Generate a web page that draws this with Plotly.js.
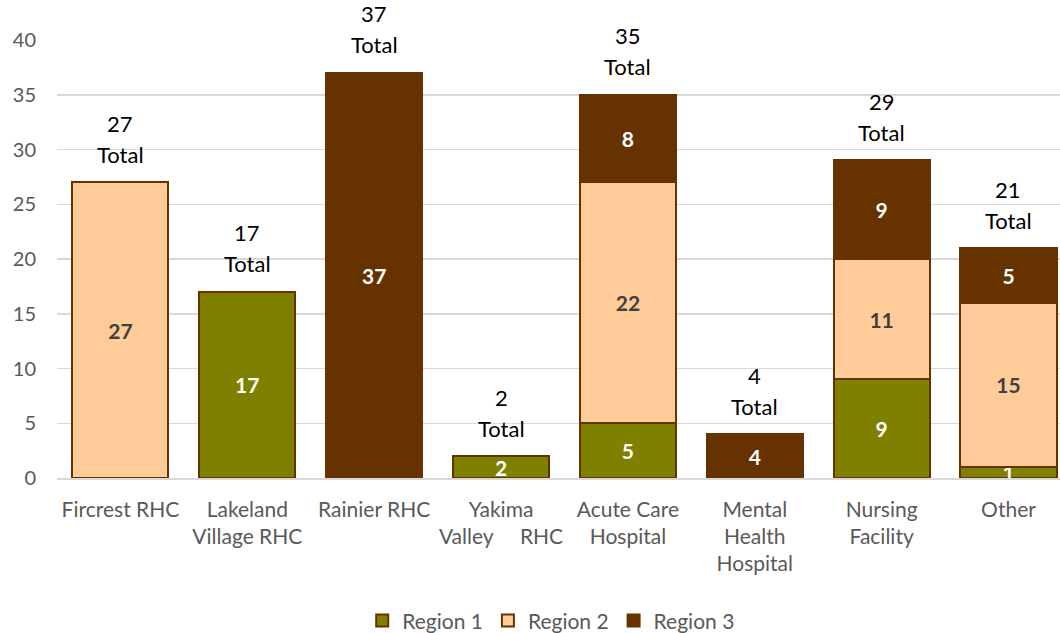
<!DOCTYPE html>
<html>
<head>
<meta charset="utf-8">
<script src="https://cdn.plot.ly/plotly-3.0.1.min.js"></script>
<style>html,body{margin:0;padding:0;background:#fff;}#chart{width:1060px;height:633px;}</style>
</head>
<body>
<div id="chart"></div>
<script>
const categories = ["Fircrest RHC", "Lakeland<br>Village RHC", "Rainier RHC", "Yakima<br>Valley\u00a0\u00a0\u00a0\u00a0\u00a0RHC", "Acute Care<br>Hospital", "Mental<br>Health<br>Hospital", "Nursing<br>Facility", "Other"];
const region1 = [0, 17, 0, 2, 5, 0, 9, 1];
const region2 = [27, 0, 0, 0, 22, 0, 11, 15];
const region3 = [0, 0, 37, 0, 8, 4, 9, 5];
const totals = [27, 17, 37, 2, 35, 4, 29, 21];

const FONT = "Lato, 'Open Sans', sans-serif";
const outline = {color: "#663300", width: 2};

function barTrace(name, vals, color, txtColor) {
  return {
    type: "bar", name: name, x: categories,
    y: vals.map(v => v === 0 ? null : v),
    text: vals.map(v => v === 0 ? "" : String(v)),
    textposition: "inside", insidetextanchor: "middle", constraintext: "none", textangle: 0,
    textfont: {family: FONT, size: 21, color: txtColor, weight: "bold"},
    marker: {color: color, line: outline},
    hoverinfo: "none", cliponaxis: false
  };
}

const data = [
  barTrace("Region 1", region1, "#808000", "#ffffff"),
  barTrace("Region 2", region2, "#FFCC99", "#404040"),
  barTrace("Region 3", region3, "#663300", "#ffffff")
];

const annotations = [];
categories.forEach((c, i) => {
  annotations.push({x: c, y: totals[i], text: String(totals[i]), showarrow: false,
    xanchor: "center", yanchor: "middle", yshift: 59,
    font: {family: FONT, size: 22, color: "#000000"}});
  annotations.push({x: c, y: totals[i], text: "Total", showarrow: false,
    xanchor: "center", yanchor: "middle", yshift: 28,
    font: {family: FONT, size: 22, color: "#000000"}});
});

const layout = {
  width: 1060, height: 633,
  margin: {l: 57, r: 0, t: 39.5, b: 155},
  barmode: "stack", bargap: 0.243,
  paper_bgcolor: "#ffffff", plot_bgcolor: "#ffffff",
  font: {family: FONT, size: 19, color: "#595959"},
  xaxis: {
    range: [-0.5, 7.406], showgrid: false, zeroline: false,
    showline: true, linecolor: "#d9d9d9", linewidth: 1.5,
    ticks: "", ticklabelstandoff: 12,
    tickfont: {family: FONT, size: 21, color: "#595959"}
  },
  yaxis: {
    range: [0, 40], dtick: 5, showgrid: true, gridcolor: "#d9d9d9", gridwidth: 1.5,
    zeroline: false, showline: false, ticks: "", ticklabelstandoff: 20,
    tickfont: {family: FONT, size: 20, color: "#595959"}
  },
  annotations: annotations,
  legend: {
    orientation: "h", xref: "container", yref: "container",
    x: 0.52, xanchor: "center", y: 0.019, yanchor: "middle",
    font: {family: FONT, size: 21, color: "#595959"},
    traceorder: "normal", itemwidth: 30
  },
  showlegend: true
};

Plotly.newPlot("chart", data, layout, {displayModeBar: false, staticPlot: true});
</script>
</body>
</html>
